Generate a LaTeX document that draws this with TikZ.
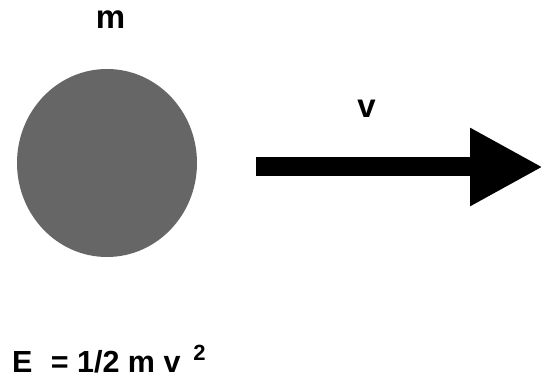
\documentclass[tikz,border=0pt]{standalone}
\usepackage{fontspec}
\setmainfont{Liberation Sans}
\usetikzlibrary{arrows.meta,shapes.geometric}
\definecolor{ballgray}{RGB}{102,102,102}
\begin{document}
\begin{tikzpicture}[x=1pt,y=-1pt,
  lbl/.style={font=\fontsize{33}{33}\selectfont\bfseries, inner sep=0pt, anchor=base},
  velarrow/.style={line width=19pt, line cap=butt, -{Triangle[length=73pt,width=73pt]}}]
\useasboundingbox (0,0) rectangle (541,377);
\fill[white] (0,0) rectangle (541,377);
% ball
\node[ellipse, fill=ballgray, minimum width=180pt, minimum height=188pt, inner sep=0pt] (ball) at (107,163) {};
% labels
\node[lbl] (mlabel) at (110.5,29) {m};
\node[lbl] (vlabel) at (366.5,118) {v};
% velocity arrow
\coordinate (vstart) at (256,167);
\coordinate (vend) at (543,167);
\draw[velarrow] (vstart) -- (vend);
% formula
\node[font=\fontsize{30.5}{30.5}\selectfont\bfseries, inner sep=0pt, anchor=base west] (energy) at (12,372)
  {E\hspace{0.6em}= 1/2 m v\hspace{0.42em}\raisebox{12pt}{\fontsize{22}{22}\selectfont 2}};
\end{tikzpicture}
\end{document}
